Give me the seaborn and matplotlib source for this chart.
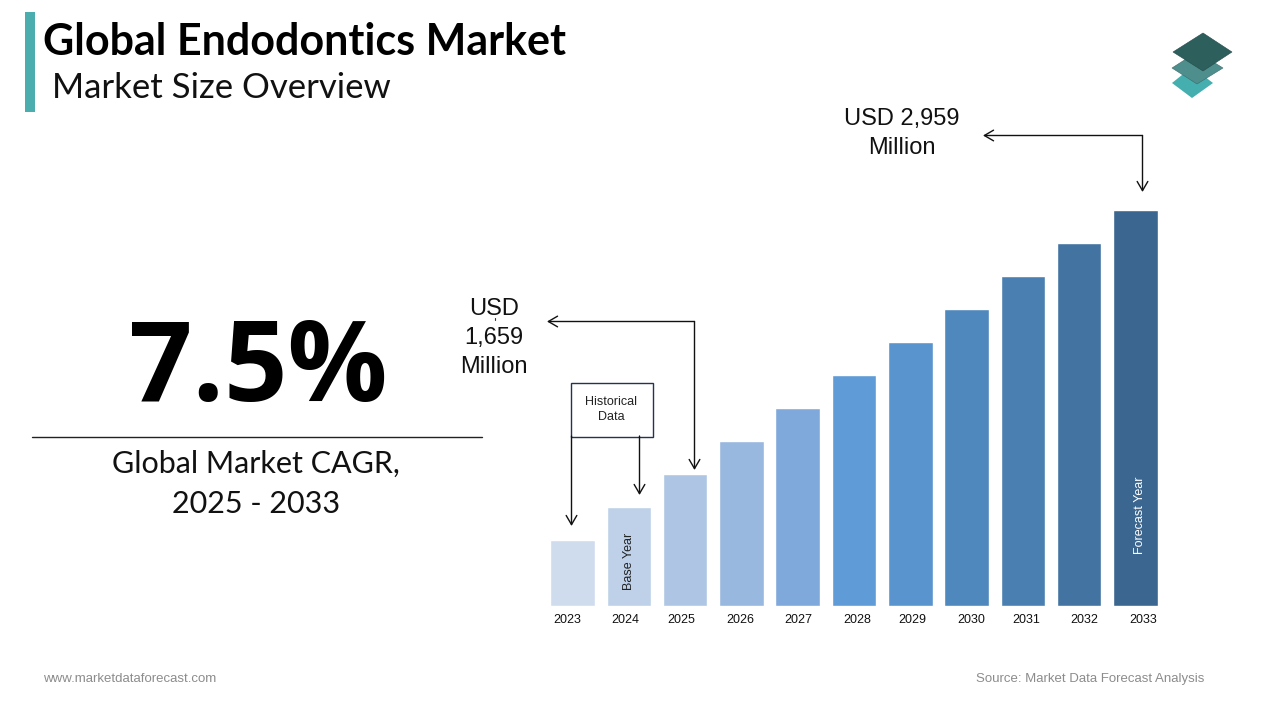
import matplotlib
matplotlib.use("Agg")
import matplotlib.pyplot as plt
from matplotlib.patches import Polygon, Rectangle
import pandas as pd
import seaborn as sns

years = ["2023", "2024", "2025", "2026", "2027", "2028", "2029", "2030", "2031", "2032", "2033"]
bar_heights = [66, 99, 132, 165, 198, 231, 264, 297, 330, 363, 396]
bar_colors = ["#CFDCEE", "#BED1E9", "#AEC6E4", "#98B8DF", "#7FA9DB", "#5F9BD6",
              "#5A94CE", "#4F88BD", "#4A7FB1", "#4374A1", "#3B6690"]
tick_px = [567, 625, 681, 740, 798, 857, 912, 971, 1026, 1084, 1143]

sns.set_theme(style="white")
W, H = 1280, 720
fig = plt.figure(figsize=(12.8, 7.2), dpi=100, facecolor="white")

# bar chart axes placed in pixels
step = 56.3
first = 572.5
left = first - step / 2
base, top = 606, 200
ax = fig.add_axes([left / W, 1 - base / H, step * 11 / W, (base - top) / H])
df = pd.DataFrame({"year": years, "size": bar_heights})
sns.barplot(data=df, x="year", y="size", hue="year", palette=bar_colors, legend=False,
            width=0.79, saturation=1, ax=ax)
ax.set_xlim(-0.5, 10.5)
ax.set_ylim(0, base - top)
ax.set_xlabel("")
ax.set_ylabel("")
ax.set_yticks([])
ax.set_xticks([(p - first) / step for p in tick_px])
ax.set_xticklabels(years, fontsize=9, family="Liberation Sans", color="#111111")
ax.tick_params(axis="x", length=0, pad=6)
for s in ax.spines.values():
    s.set_visible(False)
ax.patch.set_alpha(0)

# overlay in pixel coordinates
ov = fig.add_axes([0, 0, 1, 1], zorder=5)
ov.set_xlim(0, W)
ov.set_ylim(H, 0)
ov.axis("off")
ov.patch.set_alpha(0)

ov.add_patch(Rectangle((25, 12), 10, 100, fc="#4BADAD", ec="none"))
ov.text(43, 42, "Global Endodontics Market", fontsize=31, fontweight="bold", family="Lato",
        color="black", va="center", ha="left")
ov.text(52, 88, "Market Size Overview", fontsize=25, family="Lato", color="#111111", va="center", ha="left")

ov.text(258, 372, "7.5%", fontsize=80, fontweight="bold", family="Open Sans", color="black", va="center", ha="center")
ov.plot([32, 482], [436.5, 436.5], color="#222222", lw=1)
ov.text(256, 464, "Global Market CAGR,", fontsize=22, family="Lato", color="#111111", va="center", ha="center")
ov.text(256, 504, "2025 - 2033", fontsize=22, family="Lato", color="#111111", va="center", ha="center")

arial = "Liberation Sans"
ov.text(902, 119, "USD 2,959", fontsize=17, family=arial, color="#111111", va="center", ha="center")
ov.text(902, 148, "Million", fontsize=17, family=arial, color="#111111", va="center", ha="center")
ov.text(494, 309, "USD", fontsize=17, family=arial, color="#111111", va="center", ha="center")
ov.text(494, 338, "1,659", fontsize=17, family=arial, color="#111111", va="center", ha="center")
ov.text(494, 367, "Million", fontsize=17, family=arial, color="#111111", va="center", ha="center")
ov.plot([494.5, 494.5], [318, 320], color="#333333", lw=0.8)


def arrow(x0, y0, x1, y1):
    ov.annotate("", xy=(x1, y1), xytext=(x0, y0),
                arrowprops=dict(arrowstyle="->,head_length=0.55,head_width=0.32", color="#111111", lw=1,
                                shrinkA=0, shrinkB=0))


arrow(1142.5, 135.5, 983, 135.5)
arrow(1142.5, 135.5, 1142.5, 192)
arrow(694.5, 321.5, 547, 321.5)
arrow(694.5, 321.5, 694.5, 470)
arrow(571.5, 436, 571.5, 526)
arrow(639.5, 436, 639.5, 495)

ov.add_patch(Rectangle((570.5, 382.5), 82, 54, fc="white", ec="#1F3552", lw=1))
ov.text(611, 402, "Historical", fontsize=9, family=arial, color="#222222", va="center", ha="center")
ov.text(611, 417, "Data", fontsize=9, family=arial, color="#222222", va="center", ha="center")

ov.text(629, 561, "Base Year", fontsize=9, family=arial, color="#222222", rotation=90, va="center", ha="center")
ov.text(1140, 515, "Forecast Year", fontsize=9, family=arial, color="white", rotation=90, va="center", ha="center")

ov.text(43, 679, "www.marketdataforecast.com", fontsize=9.5, family=arial, color="#8C8C8C", va="center", ha="left")
ov.text(1204, 679, "Source: Market Data Forecast Analysis", fontsize=9.5, family=arial, color="#8C8C8C", va="center", ha="right")

# logo
ov.add_patch(Polygon([(1192, 67), (1213, 83), (1192, 98), (1172, 83)], fc="#45AFAF", ec="none"))
ov.add_patch(Polygon([(1197, 52), (1223, 68), (1197, 84), (1172, 68)], fc="#4E8F8E", ec="#3B6B6B", lw=0.4))
ov.add_patch(Polygon([(1203, 33), (1232, 52), (1203, 71), (1173, 52)], fc="#2D5F5D", ec="#234B4A", lw=0.4))

fig.savefig("out.png", dpi=100, facecolor="white")
